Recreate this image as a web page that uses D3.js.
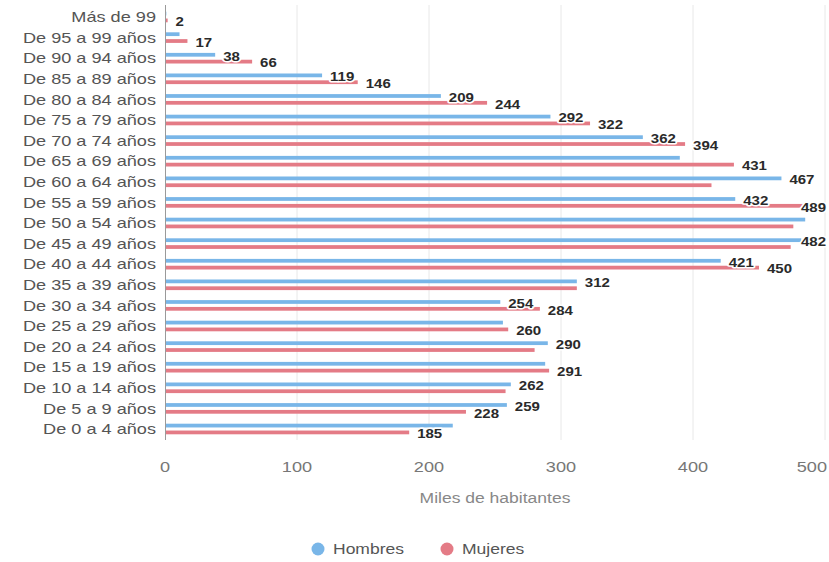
<!DOCTYPE html>
<html><head><meta charset="utf-8">
<script src="https://cdn.jsdelivr.net/npm/d3@7"></script>
<style>body{margin:0;background:#fff;} svg{display:block;font-family:"Liberation Sans",Arial,sans-serif;}</style>
</head><body><svg id="c" width="829" height="562"></svg>
<script>
const categories = ["Más de 99","De 95 a 99 años","De 90 a 94 años","De 85 a 89 años","De 80 a 84 años","De 75 a 79 años","De 70 a 74 años","De 65 a 69 años","De 60 a 64 años","De 55 a 59 años","De 50 a 54 años","De 45 a 49 años","De 40 a 44 años","De 35 a 39 años","De 30 a 34 años","De 25 a 29 años","De 20 a 24 años","De 15 a 19 años","De 10 a 14 años","De 5 a 9 años","De 0 a 4 años"];
const hombres = [1,11,38,119,209,292,362,390,467,432,485,482,421,312,254,256,290,288,262,259,218];
const mujeres = [2,17,66,146,244,322,394,431,414,489,476,474,450,312,284,260,280,291,258,228,185];
const seriesNames = ["Hombres","Mujeres"];
const xTicks = [0,100,200,300,400,500];
const axisTitle = "Miles de habitantes";

const W = 829, H = 562, SX = 1.25;
const colors = {Hombres:"#79b6e8", Mujeres:"#e47b86"};
const svg = d3.select("#c");

function stretch(sel){ sel.each(function(){ const l=this.getComputedTextLength(); this.setAttribute("textLength", l*SX); this.setAttribute("lengthAdjust","spacingAndGlyphs"); }); }

const x = d3.scaleLinear().domain([0,500]).range([165,825]);
const y0 = d3.scaleBand().domain(categories).range([6.7,439.3]).padding(0);
const bw = y0.bandwidth();
const y1 = d3.scaleBand().domain(seriesNames).range([bw/2-5.3, bw/2+5.3]).paddingInner(0.45);

// grid
svg.append("g").selectAll("line").data(xTicks.slice(1)).join("line")
  .attr("x1",d=>x(d)).attr("x2",d=>x(d)).attr("y1",5).attr("y2",440)
  .attr("stroke","#e8e8e8").attr("stroke-width",1);

// bars
const rows = categories.map((c,i)=>({c, vals:[{s:"Hombres",v:hombres[i]},{s:"Mujeres",v:mujeres[i]}]}));
const g = svg.append("g");
g.selectAll("g").data(rows).join("g").attr("transform",d=>`translate(0,${y0(d.c)})`)
  .selectAll("rect").data(d=>d.vals).join("rect")
  .attr("x",x(0)).attr("y",d=>y1(d.s)).attr("width",d=>x(d.v)-x(0)).attr("height",y1.bandwidth())
  .attr("fill",d=>colors[d.s]);

// axis line
svg.append("line").attr("x1",165.5).attr("x2",165.5).attr("y1",5).attr("y2",440).attr("stroke","#9a9a9a");

// category labels
const cl = svg.append("g").selectAll("text").data(categories).join("text")
  .attr("x",156).attr("y",d=>y0(d)+bw/2).attr("dy","0.36em").attr("text-anchor","end")
  .attr("font-size",14.5).attr("fill","#555").text(d=>d);
stretch(cl);

// x tick labels
const tl = svg.append("g").selectAll("text").data(xTicks).join("text")
  .attr("x",(d,i)=> i===xTicks.length-1 ? 827 : x(d)).attr("y",472)
  .attr("text-anchor",(d,i)=> i===xTicks.length-1 ? "end":"middle")
  .attr("font-size",14.5).attr("fill","#777").text(d=>d);
stretch(tl);
const at = svg.append("text").attr("x",495).attr("y",503).attr("text-anchor","middle")
  .attr("font-size",14).attr("fill","#888").text(axisTitle);
stretch(at);

// data labels, larger bars first, overlapping labels hidden
const items = [];
rows.forEach(r=>r.vals.forEach(d=>items.push({c:r.c,s:d.s,v:d.v})));
items.sort((a,b)=>b.v-a.v);
const lg = svg.append("g");
const placed = [];
items.forEach(it=>{
  const cy = y0(it.c)+y1(it.s)+y1.bandwidth()/2+1.5;
  const t = lg.append("text").attr("font-size",12).attr("font-weight","bold")
    .attr("fill","#2a2a2a").attr("stroke","#fff").attr("stroke-width",3).attr("paint-order","stroke")
    .attr("stroke-linejoin","round").attr("dy","0.36em").text(it.v);
  const w = t.node().getComputedTextLength()*SX;
  const lx = Math.min(x(it.v)+8, W-w-3);
  const ly = cy;
  const hit = placed.some(p=> lx < p.x+p.w+1 && lx+w+1 > p.x && Math.abs(ly-p.y) < 17);
  if(hit){ t.remove(); return; }
  t.attr("x",lx).attr("y",ly);
  t.attr("textLength",w).attr("lengthAdjust","spacingAndGlyphs");
  placed.push({x:lx,y:ly,w});
});

// legend
const leg = svg.append("g");
const legX = [318, 447];
seriesNames.forEach((s,i)=>{
  leg.append("circle").attr("cx",legX[i]).attr("cy",549).attr("r",6.5).attr("fill",colors[s]);
  const t = leg.append("text").attr("x",legX[i]+15).attr("y",549).attr("dy","0.36em")
    .attr("font-size",14).attr("fill","#555").text(s);
  stretch(t);
});
</script></body></html>
